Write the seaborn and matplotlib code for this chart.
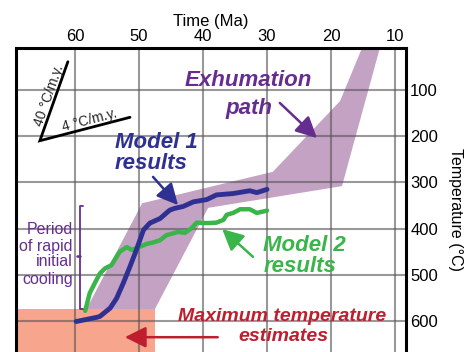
import numpy as np
import pandas as pd
import matplotlib
matplotlib.use("Agg")
import matplotlib.pyplot as plt
import seaborn as sns

# ---------------- data ----------------
model1_time = [59.8, 56.6, 56.1, 54.5, 53.5, 52.45, 51.4, 50.4, 49.3, 48.3, 46.7, 45.2,
               44.4, 43.1, 41.5, 39.4, 37.9, 35.3, 32.7, 31.6, 30.0]
model1_temp = [601, 592, 590, 572, 551, 518, 482, 446, 403, 388, 378, 360,
               356, 352, 342, 337, 327, 324, 318, 322, 315]

model2_time = [58.4, 57.7, 56.9, 56.1, 55.3, 54.3, 53.0, 51.9, 51.1, 49.8, 48.8, 47.8,
               46.7, 45.7, 44.6, 43.9, 42.8, 41.8, 41.0, 39.4, 37.9, 36.8, 36.3, 35.3,
               34.2, 32.7, 31.6, 30.0]
model2_temp = [578, 540, 518, 497, 486, 479, 450, 440, 446, 439, 433, 430,
               425, 414, 410, 407, 409, 399, 387, 388, 387, 381, 370, 366,
               358, 358, 366, 361]

exhum_time = [14.9, 18.6, 29.1, 49.5, 58.2, 47.5, 39.2, 18.3, 12.2]
exhum_temp = [0, 124, 277, 345, 574, 574, 355, 308, 0]

maxT_time = [70.0, 47.5]
maxT_temp = [574, 700]

rate40_time = [61.1, 65.47, 51.4]
rate40_temp = [38.7, 209.7, 159]

x_ticks = [60, 50, 40, 30, 20, 10]
y_ticks = [100, 200, 300, 400, 500, 600]

# colours
BLUE = "#2E3192"
GREEN = "#39B54A"
PURPLE = "#662D91"
POLY = "#C3A2C4"
SALMON = "#F7A58D"
RED = "#BE1E2D"

sns.set_theme(style="white")
plt.rcParams['font.family'] = ['Liberation Sans', 'DejaVu Sans']

fig = plt.figure(figsize=(4.75, 3.52), dpi=100)
ax = fig.add_axes([16/475, 0.0, 390/475, 1 - 48/352])

# fills
ax.fill(exhum_time, exhum_temp, color=POLY, lw=0, zorder=1)
ax.fill_between(maxT_time, maxT_temp[0], maxT_temp[1], color=SALMON, lw=0, zorder=1)

# grid
ax.set_axisbelow('line')
ax.grid(True, color="#555555", alpha=0.6, lw=1.5)

# lines
df2 = pd.DataFrame({"time": model2_time, "temp": model2_temp})
df1 = pd.DataFrame({"time": model1_time, "temp": model1_temp})
sns.lineplot(data=df2, x="time", y="temp", sort=False, estimator=None, color=GREEN,
             lw=3.2, ax=ax, zorder=3)
sns.lineplot(data=df1, x="time", y="temp", sort=False, estimator=None, color=BLUE,
             lw=3.5, ax=ax, zorder=4)

# cooling rate indicator
ax.plot(rate40_time, rate40_temp, color="black", lw=2, zorder=3, solid_joinstyle='miter')
ax.text(64.06, 111, "40 °C/m.y.", rotation=70.5, ha="center", va="center", fontsize=10,
        rotation_mode="anchor")
ax.text(57.8, 165, "4 °C/m.y.", rotation=14.5, ha="center", va="center", fontsize=10,
        rotation_mode="anchor")

# bracket
bx = 59.2
ax.plot([bx - 0.5, bx, bx, bx - 0.5], [351, 351, 574, 574], color=PURPLE, lw=1.3, zorder=3)
ax.plot([bx, bx + 0.55], [460, 460], color=PURPLE, lw=1.8, zorder=3)
for yy, s in zip([401, 438, 472, 509], ["Period", "of rapid", "initial", "cooling"]):
    ax.text(60.3, yy, s, ha="right", va="center", fontsize=11.5, color=PURPLE)

# annotations
bi = dict(fontsize=16, fontweight="bold", fontstyle="italic")
ax.text(32.97, 78.4, "Exhumation", ha="center", va="center", color=PURPLE, **bi)
ax.text(32.8, 139, "path", ha="center", va="center", color=PURPLE, **bi)
ax.text(53.75, 212.5, "Model 1", ha="left", va="center", color=BLUE, **bi)
ax.text(53.75, 258, "results", ha="left", va="center", color=BLUE, **bi)
ax.text(30.6, 435.5, "Model 2", ha="left", va="center", color=GREEN, **bi)
ax.text(30.6, 483, "results", ha="left", va="center", color=GREEN, **bi)
bi14 = dict(fontsize=14, fontweight="bold", fontstyle="italic")
ax.text(27.66, 591, "Maximum temperature", ha="center", va="center", color=RED, **bi14)
ax.text(27.5, 632.5, "estimates", ha="center", va="center", color=RED, **bi14)

def arrow(tail, head, color):
    ax.annotate("", xy=head, xytext=tail,
                arrowprops=dict(arrowstyle="-|>,head_length=0.8,head_width=0.4",
                                color=color, lw=1.8, mutation_scale=16,
                                shrinkA=0, shrinkB=0), zorder=5)

arrow((28.0, 128), (22.2, 204), PURPLE)
arrow((47.8, 288), (43.9, 349), BLUE)
arrow((32.2, 461), (37.0, 401), GREEN)
arrow((37.7, 635), (52.2, 635), RED)

# axes
ax.set_xlim(69.2, 8.3)
ax.set_ylim(667, 9)
ax.set_xticks(x_ticks)
ax.set_yticks(y_ticks)
ax.xaxis.tick_top()
ax.xaxis.set_label_position("top")
ax.yaxis.tick_right()
ax.yaxis.set_label_position("right")
ax.tick_params(axis="both", length=0, labelsize=12, colors="black")
ax.tick_params(axis="x", pad=3)
ax.tick_params(axis="y", pad=3)
ax.set_xlabel("Time (Ma)", fontsize=12, labelpad=2, color="black")
ax.set_ylabel("Temperature (°C)", fontsize=11.5, rotation=270, color="black",
              ha="center", va="center")
ax.yaxis.set_label_coords((455 - 16) / 390, (352 - 210) / 304)

for side in ["top", "left", "right"]:
    ax.spines[side].set_visible(True)
    ax.spines[side].set_color("black")
    ax.spines[side].set_linewidth(2.2)
ax.spines["bottom"].set_visible(False)

fig.savefig("out.png", dpi=100)
